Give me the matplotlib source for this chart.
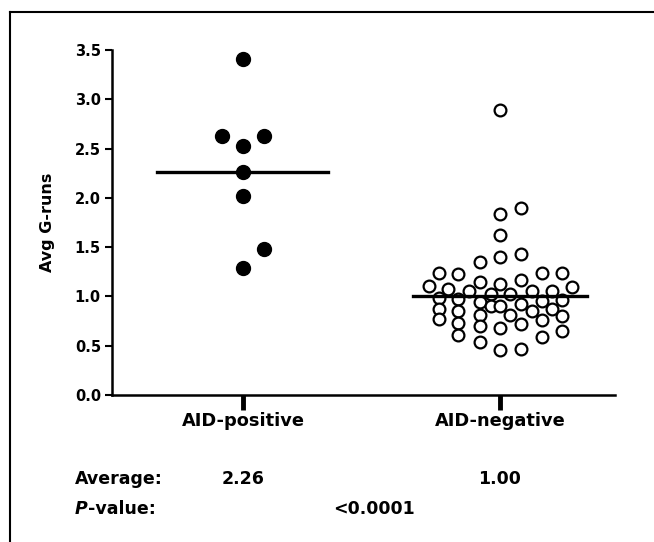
import matplotlib
matplotlib.use("Agg")
import matplotlib.pyplot as plt
from matplotlib.lines import Line2D
import numpy as np

plt.rcParams['font.family'] = ['DejaVu Sans']

categories = ["AID-positive", "AID-negative"]
averages = [2.26, 1.00]
p_value_text = "<0.0001"

# AID-positive values with horizontal jitter offsets (in category units)
pos_values = [3.41, 2.63, 2.63, 2.53, 2.26, 2.02, 1.48, 1.29]
pos_offsets = [0.0, -0.08, 0.08, 0.0, 0.0, 0.0, 0.08, 0.0]

# AID-negative values grouped by column offset (pixels relative to category centre)
neg_cols = [-71, -61, -52, -42, -31, -20, -9, 0, 10, 21, 32, 42, 52, 62, 72]
neg_col_values = [
    [1.11],
    [1.24, 0.98, 0.87, 0.77],
    [1.08],
    [1.23, 0.97, 0.85, 0.73, 0.61],
    [1.06],
    [1.35, 1.15, 0.94, 0.81, 0.70, 0.54],
    [1.02, 0.90],
    [2.89, 1.84, 1.62, 1.40, 1.13, 0.90, 0.68, 0.46],
    [1.02, 0.81],
    [1.90, 1.43, 1.17, 0.92, 0.72, 0.47],
    [1.06, 0.85],
    [1.24, 0.95, 0.76, 0.59],
    [1.06, 0.87],
    [1.24, 0.96, 0.80, 0.65],
    [1.10],
]

W, H = 654, 542
fig = plt.figure(figsize=(W / 100, H / 100), dpi=100)

# axes placement in pixels
ax_left, ax_right, ax_top, ax_bottom = 112, 615, 50, 395
ax = fig.add_axes([ax_left / W, 1 - ax_bottom / H, (ax_right - ax_left) / W, (ax_bottom - ax_top) / H])

cat_px = 257.0  # pixel distance between the two categories
xmin = (ax_left - 243) / cat_px
xmax = (ax_right - 243) / cat_px
ax.set_xlim(xmin, xmax)
ax.set_ylim(0, 3.5)

# AID-positive filled dots
ax.scatter(np.array(pos_offsets) + 0, pos_values, s=100, color='black', zorder=3, clip_on=False)

# AID-negative open circles
nx, ny = [], []
for off, vals in zip(neg_cols, neg_col_values):
    for v in vals:
        nx.append(1 + off / cat_px)
        ny.append(v)
ax.scatter(nx, ny, s=72, facecolors='white', edgecolors='black', linewidths=1.6, zorder=3, clip_on=False)

# mean lines
ax.plot([0 - 86 / cat_px, 0 + 85 / cat_px], [averages[0], averages[0]], color='black', lw=2.4, zorder=4)
ax.plot([1 - 87 / cat_px, 1 + 87 / cat_px], [averages[1], averages[1]], color='black', lw=2.4, zorder=4)

for s in ['top', 'right']:
    ax.spines[s].set_visible(False)
for s in ['left', 'bottom']:
    ax.spines[s].set_linewidth(1.8)

yt = np.arange(0, 3.51, 0.5)
ax.set_yticks(yt)
ax.set_yticklabels([f"{v:.1f}" for v in yt], fontsize=10.5, fontweight='bold')
ax.tick_params(axis='y', direction='out', length=5, width=1.5, pad=3)
ax.set_xticks([0, 1])
ax.set_xticklabels(categories, fontsize=12.8, fontweight='bold')
ax.tick_params(axis='x', direction='out', length=11, width=3.5, pad=1.5)
ax.set_ylabel("Avg G-runs", fontsize=11.5, fontweight='bold', labelpad=14)

# bottom annotations
FS = 12.5
def ftext(xp, yp, s, **kw):
    return fig.text(xp / W, 1 - yp / H, s, va='baseline', fontsize=FS, fontweight='bold', **kw)

ftext(75, 484, "Average:", ha='left')
ftext(243, 484, f"{averages[0]:.2f}", ha='center')
ftext(500, 484, f"{averages[1]:.2f}", ha='center')
ptxt = ftext(75, 514, "P", ha='left', style='italic')
renderer = fig.canvas.get_renderer()
bb = ptxt.get_window_extent(renderer)
fig.text(bb.x1 / W + 0.5 / W, 1 - 514 / H, "-value:", va='baseline', ha='left', fontsize=FS, fontweight='bold')
ftext(374, 514, p_value_text, ha='center')

# frame lines (top and left)
fig.add_artist(Line2D([10 / W, 1.0], [1 - 12 / H, 1 - 12 / H], transform=fig.transFigure, color='black', lw=1.5))
fig.add_artist(Line2D([10 / W, 10 / W], [0.0, 1 - 12 / H], transform=fig.transFigure, color='black', lw=1.5))

fig.savefig("out.png", dpi=100)
